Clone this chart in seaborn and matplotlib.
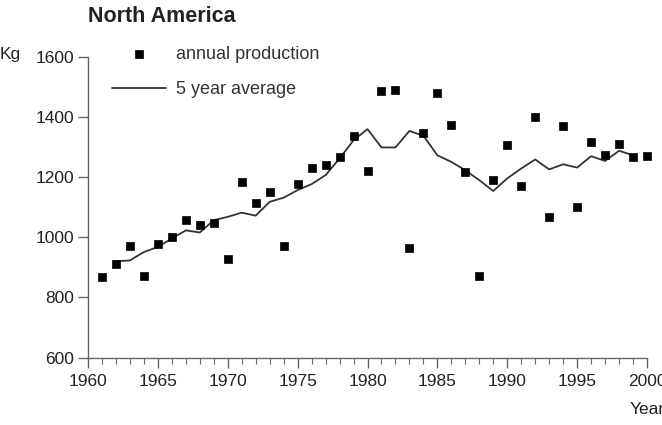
import numpy as np
import pandas as pd
import matplotlib
matplotlib.use('Agg')
import matplotlib.pyplot as plt
from matplotlib.ticker import MultipleLocator
import seaborn as sns

years = list(range(1961, 2001))
annual = [868, 910, 972, 872, 979, 1000, 1059, 1042, 1049, 929,
          1184, 1114, 1150, 971, 1177, 1231, 1242, 1268, 1338, 1221,
          1487, 1489, 966, 1347, 1479, 1374, 1216, 872, 1192, 1307,
          1172, 1399, 1066, 1370, 1101, 1316, 1273, 1312, 1266, 1272]

avg_years = list(range(1962, 2000))
avg5 = [920, 923, 951, 968, 996, 1023, 1016, 1057, 1068, 1082,
        1072, 1118, 1132, 1157, 1177, 1207, 1262, 1323, 1360, 1299,
        1299, 1354, 1338, 1273, 1251, 1223, 1190, 1154, 1196, 1229,
        1259, 1226, 1243, 1232, 1270, 1254, 1288, 1273]

prod = pd.DataFrame({'year': years, 'kg': annual})
avg = pd.DataFrame({'year': avg_years, 'kg': avg5})

sns.set_style('ticks')
plt.rcParams['font.family'] = ['Liberation Sans', 'DejaVu Sans']

fig = plt.figure(figsize=(6.62, 4.25), dpi=100)
ax = fig.add_axes([88 / 662, 1 - 357.5 / 425, (647 - 88) / 662, 300.5 / 425])

sns.lineplot(data=avg, x='year', y='kg', ax=ax, color='#333333', lw=1.3,
             label='5 year average', clip_on=False)
sns.scatterplot(data=prod, x='year', y='kg', ax=ax, marker='s', s=38,
                color='black', edgecolor='black', linewidth=0.5,
                label='annual production', clip_on=False, zorder=3)

ax.set_xlim(1960, 2000)
ax.set_ylim(600, 1600)
ax.set_xticks(range(1960, 2001, 5))
ax.xaxis.set_minor_locator(MultipleLocator(1))
ax.set_yticks(range(600, 1601, 200))
ax.set_xlabel('')
ax.set_ylabel('')

spine_col = '#666666'
for side in ['top', 'right']:
    ax.spines[side].set_visible(False)
for side in ['left', 'bottom']:
    ax.spines[side].set_color(spine_col)
    ax.spines[side].set_linewidth(1.0)
ax.tick_params(axis='both', which='major', length=7, width=1.0, color=spine_col,
               labelsize=12.5, labelcolor='#222222')
ax.tick_params(axis='x', which='major', pad=5)
ax.tick_params(axis='y', which='major', pad=3)
ax.tick_params(axis='x', which='minor', length=4, width=0.8, color=spine_col)

handles, labels = ax.get_legend_handles_labels()
order = [labels.index('annual production'), labels.index('5 year average')]
ax.legend([handles[i] for i in order], [labels[i] for i in order],
          loc='upper left', bbox_to_anchor=(112 / 662, 1 - 46 / 425),
          bbox_transform=fig.transFigure, frameon=False, fontsize=13,
          handlelength=3.0, handletextpad=0.55, labelspacing=1.0,
          borderpad=0, borderaxespad=0, labelcolor='#333333')

fig.text(88 / 662, 1 - 17 / 425, 'North America', fontsize=15.5,
         fontweight='bold', ha='left', va='center', color='#222222')
fig.text(0, 1 - 55 / 425, 'Kg', fontsize=12.5, ha='left', va='center', color='#222222')
fig.text(630 / 662, 1 - 410 / 425, 'Years', fontsize=12.5, ha='left', va='center',
         color='#222222')

fig.savefig('out.png', dpi=100)
